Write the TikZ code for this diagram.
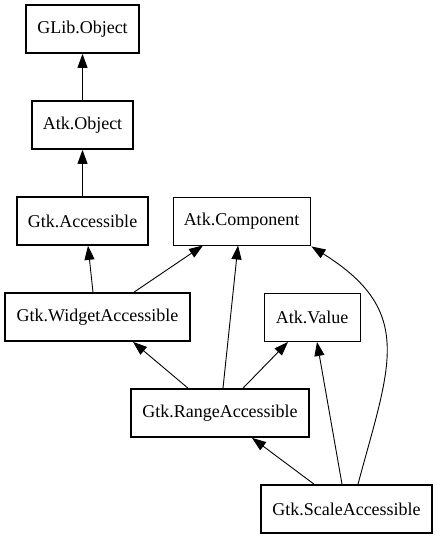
\documentclass[tikz,border=0pt]{standalone}
\usepackage{fontspec}
\setmainfont{Liberation Serif}
\usetikzlibrary{arrows.meta}

\begin{document}
\begin{tikzpicture}[x=1pt, y=-1pt,
  cls/.style={shape=rectangle, draw=black, line width=1.7pt, minimum height=48pt, inner sep=0pt, font=\fontsize{18}{21}\selectfont},
  iface/.style={cls, line width=0.9pt},
  inh/.style={-{Triangle[length=14pt, width=10pt]}, line width=0.9pt, draw=black}]
\useasboundingbox (0,0) rectangle (437,539);
\node[cls, minimum width=113pt] (GObj) at (82.5,29) {GLib.Object};
\node[cls, minimum width=101pt] (AObj) at (82.5,125) {Atk.Object};
\node[cls, minimum width=131pt] (GAcc) at (82.5,221) {Gtk.Accessible};
\node[iface, minimum width=137pt] (AComp) at (241.5,221) {Atk.Component};
\node[cls, minimum width=185pt] (GWid) at (97.5,317) {Gtk.WidgetAccessible};
\node[iface, minimum width=96pt] (AVal) at (312,317.5) {Atk.Value};
\node[cls, minimum width=178pt] (GRange) at (220,413) {Gtk.RangeAccessible};
\node[cls, minimum width=171pt] (GScale) at (346.5,509) {Gtk.ScaleAccessible};
\path (AObj) edge [inh] (GObj);
\path (GAcc) edge [inh] (AObj);
\path ([xshift=-4.5pt]GWid.north) edge [inh] ([xshift=5.5pt]GAcc.south);
\path ([xshift=36.5pt]GWid.north) edge [inh] ([xshift=-38.5pt]AComp.south);
\path ([xshift=-32pt]GRange.north) edge [inh] ([xshift=35.5pt]GWid.south);
\path ([xshift=3pt]GRange.north) edge [inh] ([xshift=-3.5pt]AComp.south);
\path ([xshift=23pt]GRange.north) edge [inh] ([xshift=-24pt]AVal.south);
\path ([xshift=-32.5pt]GScale.north) edge [inh] ([xshift=32pt]GRange.south);
\path ([xshift=-4.5pt]GScale.north) edge [inh] ([xshift=5pt]AVal.south);
\path ([xshift=11.5pt]GScale.north) edge [inh, out=75, in=-32, looseness=1.3] ([xshift=1pt, yshift=-1pt]AComp.south east);
\end{tikzpicture}
\end{document}
